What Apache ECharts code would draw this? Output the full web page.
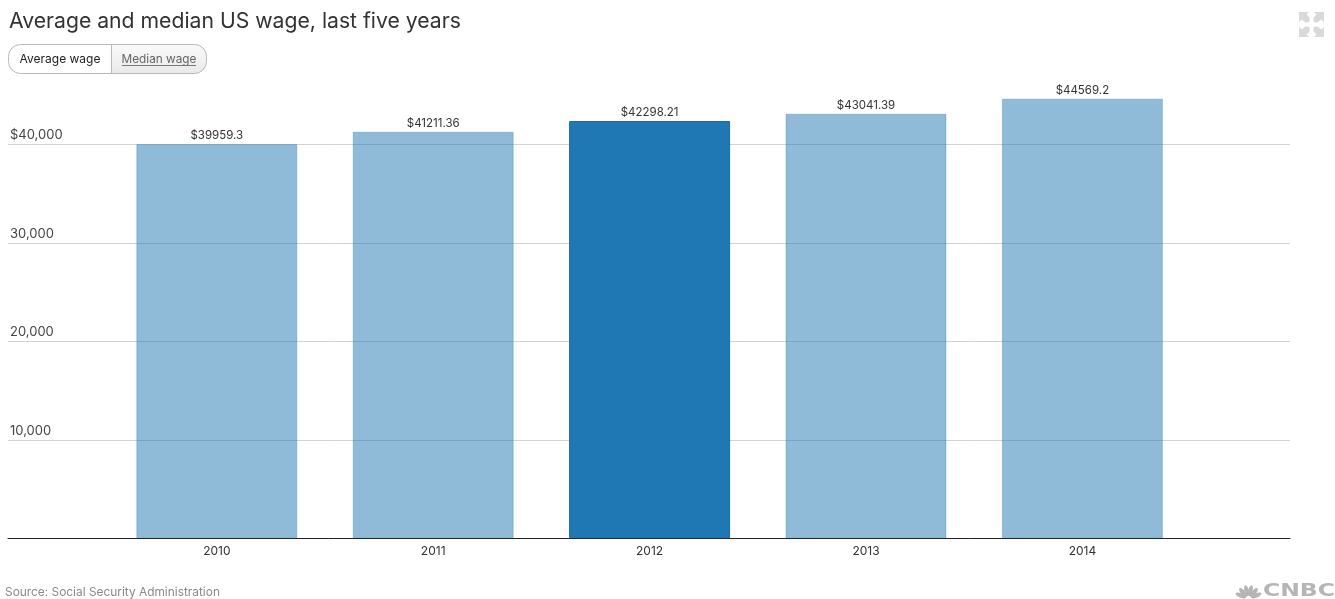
<!DOCTYPE html>
<html>
<head>
<meta charset="utf-8">
<style>html,body{margin:0;padding:0;background:#fff}#c{width:1335px;height:599px}</style>
<script src="https://cdn.jsdelivr.net/npm/echarts@6/dist/echarts.min.js"></script>
</head>
<body>
<div id="c"></div>
<script>
const years = ['2010', '2011', '2012', '2013', '2014'];
const averageWage = [39959.3, 41211.36, 42298.21, 43041.39, 44569.2];
const highlightedYear = '2012';
const titleText = 'Average and median US wage, last five years';
const buttonLabels = ['Average wage', 'Median wage'];
const sourceText = 'Source: Social Security Administration';
const FONT = 'Inter, "Open Sans", sans-serif';

const chart = echarts.init(document.getElementById('c'), null, {renderer: 'canvas'});

const feathers = [-66, -40, -13, 13, 40, 66];
const feathersG = feathers.map(a => ({
  type: 'ellipse',
  x: 1248.5, y: 599, rotation: -a * Math.PI / 180,
  shape: {cx: 0, cy: -8.5, rx: 2.2, ry: 5.6},
  style: {fill: '#b5b5b5'}, silent: true
}));
const arrow = (x, y, sx, sy) => ({
  type: 'polygon', x, y, scaleX: sx, scaleY: sy,
  shape: {points: [[0,0],[10,0],[7.5,2.5],[10.5,5.5],[10.5,10],[6.5,10.5],[2.8,7.4],[0,10]]},
  style: {fill: '#d9d9d9'}, silent: true
});

chart.setOption({
  animation: false,
  backgroundColor: '#fff',
  title: {
    text: titleText, left: 4, top: 6,
    textStyle: {fontFamily: FONT, fontSize: 21.2, fontWeight: 400, color: '#333'}
  },
  grid: [
    {left: 8, right: 45, top: 95.2, bottom: 60.8},
    {left: 108.6, width: 1082, top: 94.4, bottom: 60.8}
  ],
  xAxis: [
    {gridIndex: 0, type: 'category', data: years, axisLine: {show: true, lineStyle: {color: '#222', width: 1}},
     axisTick: {show: false}, axisLabel: {show: false}, splitLine: {show: false}},
    {gridIndex: 1, type: 'category', data: years, axisLine: {show: false}, axisTick: {show: false},
     axisLabel: {margin: 7, fontFamily: FONT, fontSize: 12, color: '#333'}}
  ],
  yAxis: [
    {gridIndex: 0, type: 'value', min: 0, max: 45000, interval: 10000,
     axisLine: {show: false}, axisTick: {show: false},
     splitLine: {showMaxLine: false, lineStyle: {color: '#d2d2d2', width: 1}},
     axisLabel: {inside: true, margin: 2, verticalAlign: 'bottom', padding: [0, 0, 2.6, 0],
       fontFamily: FONT, fontSize: 13, color: '#444', showMaxLabel: false,
       formatter: v => (v === 0 || v > 40000) ? '' : (v === 40000 ? '$' : '') + v.toLocaleString('en-US')}},
    {gridIndex: 1, type: 'value', min: 0, max: 45000, interval: 10000, show: false}
  ],
  series: [{
    type: 'bar', xAxisIndex: 1, yAxisIndex: 1, barWidth: 161,
    data: averageWage.map((v, i) => ({
      value: v,
      itemStyle: years[i] === highlightedYear
        ? {color: '#1f77b4', opacity: 1, borderColor: '#1a6a9f', borderWidth: 1}
        : {color: 'rgba(31,119,180,0.5)', borderColor: 'rgba(31,119,180,0.3)', borderWidth: 1}
    })),
    label: {show: true, position: 'top', distance: 2.5, fontFamily: FONT, fontSize: 11.5, color: '#333',
      formatter: p => '$' + p.value}
  }],
  graphic: [
    {type: 'rect', shape: {x: 111.5, y: 44.5, width: 95, height: 29, r: [0, 12, 12, 0]}, silent: true,
     style: {fill: new echarts.graphic.LinearGradient(0, 0, 0, 1, [{offset: 0, color: '#fafafa'}, {offset: 1, color: '#e9e9e9'}]), stroke: '#b9b9b9'}},
    {type: 'rect', shape: {x: 8.5, y: 44.5, width: 103, height: 29, r: [12, 0, 0, 12]}, silent: true,
     style: {fill: '#fff', stroke: '#b9b9b9'}},
    {type: 'text', x: 60, y: 59, silent: true, style: {text: buttonLabels[0], align: 'center', verticalAlign: 'middle', font: '12px ' + FONT, fill: '#222'}},
    {type: 'text', x: 159, y: 59, silent: true, style: {text: buttonLabels[1], align: 'center', verticalAlign: 'middle', font: '11.8px ' + FONT, fill: '#666'}},
    {type: 'line', shape: {x1: 122, y1: 65.5, x2: 196, y2: 65.5}, style: {stroke: '#777', lineWidth: 1}, silent: true},
    {type: 'text', x: 5, y: 592, silent: true, style: {text: sourceText, align: 'left', verticalAlign: 'middle', font: '11.9px ' + FONT, fill: '#8a8a8a'}},
    arrow(1299, 12, 1, 1), arrow(1324, 12, -1, 1), arrow(1299, 37, 1, -1), arrow(1324, 37, -1, -1),
    ...feathersG,
    {type: 'text', x: 1263, y: 592, scaleX: 1.38, silent: true, style: {text: 'CNBC', align: 'left', verticalAlign: 'middle', font: 'bold 17px "DejaVu Sans"', fill: '#b5b5b5'}}
  ]
});
</script>
</body>
</html>
